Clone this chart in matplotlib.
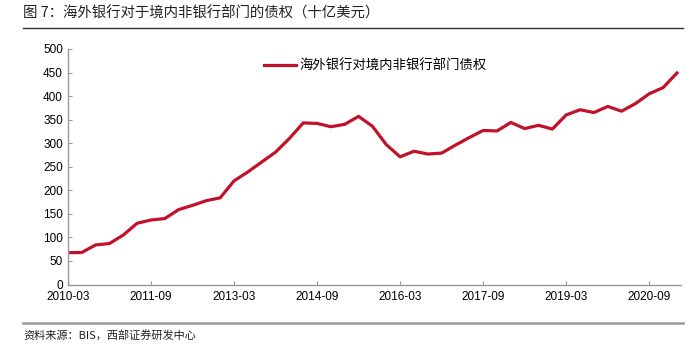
import numpy as np
import matplotlib
matplotlib.use('Agg')
import matplotlib.pyplot as plt
from matplotlib.lines import Line2D

plt.rcParams['font.family'] = ['Noto Sans CJK SC', 'DejaVu Sans']

# quarterly data, 2010-03 .. 2021-03 (billion USD)
values = [67.5, 68, 84, 87, 105, 130, 137, 140, 159, 168, 178, 184,
          220, 239, 260, 281, 310, 343, 342, 335, 340, 357, 336, 297,
          271, 283, 277, 279, 296, 312, 327, 326, 344, 331, 338, 330,
          360, 371, 365, 378, 368, 384, 405, 418, 449]
tick_labels = ['2010-03', '2011-09', '2013-03', '2014-09',
               '2016-03', '2017-09', '2019-03', '2020-09']
series_name = '海外银行对境内非银行部门债权'
title = '图 7：海外银行对于境内非银行部门的债权（十亿美元）'
source = '资料来源：BIS，西部证券研发中心'

x = np.arange(len(values))

fig = plt.figure(figsize=(7.0, 3.56), dpi=100)
ax = fig.add_axes([0.097, 0.2008, 0.876, 0.6616])

ax.plot(x, values, color='#C0122A', lw=2.3, solid_joinstyle='round',
        label=series_name)

ax.set_xlim(0, len(values) - 1 + 0.3)
ax.set_ylim(0, 500)
ax.set_yticks(np.arange(0, 501, 50))
ax.set_xticks(np.arange(0, len(values), 6))
ax.set_xticklabels(tick_labels)

for s in ['top', 'right']:
    ax.spines[s].set_visible(False)
for s in ['left', 'bottom']:
    ax.spines[s].set_color('#999999')
    ax.spines[s].set_linewidth(1.0)
ax.tick_params(direction='in', length=3, color='#999999', labelsize=8.5,
               labelcolor='black')
ax.tick_params(axis='x', pad=5)
for lab in ax.get_xticklabels() + ax.get_yticklabels():
    lab.set_family('Liberation Sans')

leg = ax.legend(loc='upper left', bbox_to_anchor=(0.3, 1.01), frameon=False,
                fontsize=9.6, handlelength=2.4, handletextpad=0.3)

# title and rules
fig.text(0.033, 0.963, title, fontsize=10.4, va='center', ha='left', color='#222222')
fig.add_artist(Line2D([0.033, 0.975], [0.922, 0.922], color='#333333', lw=1.0))
fig.add_artist(Line2D([0.033, 0.975], [0.093, 0.093], color='#999999', lw=1.8))
fig.text(0.033, 0.057, source, fontsize=8, va='center', ha='left', color='#222222')

fig.savefig('out.png', dpi=100)
